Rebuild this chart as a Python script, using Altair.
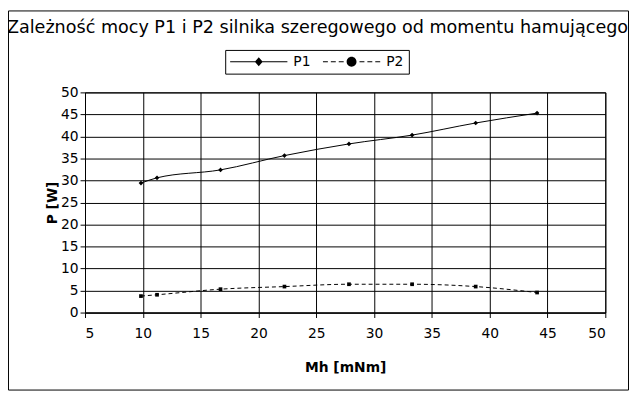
import altair as alt
import pandas as pd

mh = [9.84, 11.23, 16.72, 22.25, 27.83, 33.29, 38.79, 44.1]
p1 = [29.4, 30.6, 32.4, 35.65, 38.3, 40.3, 43.05, 45.3]
p2 = [3.74, 4.04, 5.31, 5.9, 6.43, 6.43, 5.9, 4.55]
series = ["P1", "P2"]
x_ticks = list(range(5, 51, 5))
y_ticks = list(range(0, 51, 5))
title_text = "Zależność mocy P1 i P2 silnika szeregowego od momentu hamującego"

df = pd.DataFrame({
    "Mh": mh + mh,
    "P": p1 + p2,
    "series": ["P1"] * len(mh) + ["P2"] * len(mh),
})

FONT = "DejaVu Sans"

x = alt.X("Mh:Q", scale=alt.Scale(domain=[5, 50], nice=False, zero=False),
          axis=alt.Axis(values=x_ticks, title="Mh [mNm]"))
y = alt.Y("P:Q", scale=alt.Scale(domain=[0, 50], nice=False),
          axis=alt.Axis(values=y_ticks, title="P [W]"))

line_p1 = alt.Chart(df).transform_filter(alt.datum.series == "P1").mark_line(
    color="black", strokeWidth=1, interpolate="monotone").encode(x=x, y=y)
line_p2 = alt.Chart(df).transform_filter(alt.datum.series == "P2").mark_line(
    color="black", strokeWidth=1, interpolate="monotone", strokeDash=[4, 3]).encode(x=x, y=y)

p1_pts = alt.Chart(df).transform_filter(alt.datum.series == "P1").mark_point(
    shape="diamond", filled=True, color="black", size=22, opacity=1).encode(x=x, y=y)
p2_pts = alt.Chart(df).transform_filter(alt.datum.series == "P2").mark_point(
    shape="square", filled=True, color="black", size=14, opacity=1).encode(x=x, y=y)

# legend symbols: thin filled bars (line) + marker, wider than the nominal symbol box
h = 0.075
def bar(a, b):
    return f"M{a},{-h}H{b}V{h}H{a}Z"

path_p1 = bar(-1, 7.286) + "M3.143,-0.643L3.714,0L3.143,0.643L2.572,0Z"
path_p2 = (bar(-1, -0.286) + bar(0.143, 0.857) + bar(1.286, 2.0)
           + bar(4.286, 5.0) + bar(5.429, 6.143) + bar(6.571, 7.286)
           + "M2.429,0A0.714,0.714,0,1,1,3.857,0A0.714,0.714,0,1,1,2.429,0Z")

# legend-only layer: points sit outside the x domain and are clipped away
legend_layer = alt.Chart(df).transform_calculate(Mh_off="-100").mark_point(
    filled=True, fill="black", opacity=1, clip=True).encode(
    x=alt.X("Mh_off:Q"), y=y,
    shape=alt.Shape("series:N", scale=alt.Scale(domain=series, range=[path_p1, path_p2]),
                    legend=alt.Legend(title=None, orient="none", legendX=142, legendY=-43,
                                      direction="horizontal", strokeColor="black", fillColor="white",
                                      padding=5, symbolSize=196, symbolFillColor="black",
                                      symbolStrokeWidth=0, symbolOpacity=1,
                                      labelFontSize=14, labelFont=FONT, labelColor="black",
                                      columnPadding=12, labelOffset=50, cornerRadius=0)),
)

frame = alt.Chart(pd.DataFrame({"a": [0]})).mark_rect(
    fill=None, stroke="black", strokeWidth=1, clip=False).encode(
    x=alt.value(-77.5), x2=alt.value(550.5), y=alt.value(-82.5), y2=alt.value(301.5))

chart = alt.layer(frame, line_p1, line_p2, p1_pts, p2_pts, legend_layer).properties(
    width=527, height=223,
    autosize=alt.AutoSizeParams(type="none"),
    padding={"left": 78, "top": 83, "right": 24, "bottom": 79},
    title=alt.TitleParams(title_text, font=FONT, fontSize=17.8, fontWeight="normal",
                          color="black", anchor="middle", frame="bounds", offset=0, dy=27, dx=-1),
).configure_view(stroke="black", strokeWidth=1).configure_axis(
    grid=True, gridColor="black", gridOpacity=1, gridWidth=1,
    domainColor="black", domainWidth=1, tickColor="black", tickSize=5, tickWidth=1,
    labelFont=FONT, labelFontSize=14, labelColor="black",
    titleFont=FONT, titleFontSize=14, titleFontWeight="bold", titleColor="black",
).configure_axisX(labelPadding=9, titlePadding=21).configure_axisY(labelPadding=2, titlePadding=1)

chart.save("out.html", embed_options={"renderer": "svg", "actions": False})
